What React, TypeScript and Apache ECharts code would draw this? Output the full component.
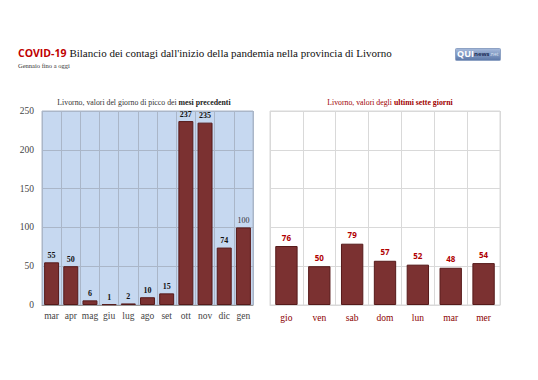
import React, { useEffect, useRef } from "react";
import * as echarts from "echarts";

const monthCats = ["mar", "apr", "mag", "giu", "lug", "ago", "set", "ott", "nov", "dic", "gen"];
const monthVals = [55, 50, 6, 1, 2, 10, 15, 237, 235, 74, 100];
const dayCats = ["gio", "ven", "sab", "dom", "lun", "mar", "mer"];
const dayVals = [76, 50, 79, 57, 52, 48, 54];
const yTicks = { min: 0, max: 250, interval: 50 };

export default function App() {
  const ref = useRef<HTMLDivElement>(null);
  useEffect(() => {
    if (!ref.current) return;
    const chart = echarts.init(ref.current, null, { renderer: "svg" });
    const serif = "Liberation Serif";
    const sans = "Open Sans";
    const barStyle = { color: "#7b3131", borderColor: "#561a1a", borderWidth: 1 };
    const monthData = monthVals.map((v, i) =>
      i === monthVals.length - 1 ? { value: v, label: { fontWeight: "normal", color: "#333" } } : v
    );
    chart.setOption({
      animation: false,
      backgroundColor: "#ffffff",
      title: [
        {
          left: 13,
          top: 42,
          text: "{a|COVID-19} {b|Bilancio dei contagi dall'inizio della pandemia nella provincia di Livorno}",
          textStyle: {
            fontFamily: serif,
            fontWeight: "normal",
            fontSize: 11.5,
            rich: {
              a: { fontFamily: sans, fontWeight: "bold", fontSize: 10.5, color: "#c00000" },
              b: { fontFamily: serif, fontWeight: "normal", fontSize: 11, color: "#111" },
            },
          },
        },
        {
          left: 13,
          top: 57,
          text: "Gennaio fino a oggi",
          textStyle: { fontFamily: serif, fontSize: 6.5, fontWeight: "normal", color: "#333" },
        },
        {
          left: 139,
          textAlign: "center",
          top: 93,
          text: "{n|Livorno, valori del giorno di picco dei }{b|mesi precedenti}",
          textStyle: {
            fontFamily: serif,
            fontWeight: "normal",
            rich: {
              n: { fontFamily: serif, fontWeight: "normal", fontSize: 7.8, color: "#333" },
              b: { fontFamily: serif, fontSize: 7.8, fontWeight: "bold", color: "#222" },
            },
          },
        },
        {
          left: 385,
          textAlign: "center",
          top: 93,
          text: "{n|Livorno, valori degli }{b|ultimi sette giorni}",
          textStyle: {
            fontFamily: serif,
            fontWeight: "normal",
            rich: {
              n: { fontFamily: serif, fontWeight: "normal", fontSize: 7.8, color: "#a00000" },
              b: { fontFamily: serif, fontSize: 7.8, fontWeight: "bold", color: "#a00000" },
            },
          },
        },
      ],
      graphic: [
        {
          type: "rect",
          left: 455,
          top: 48,
          shape: { width: 45, height: 12, r: 1 },
          style: {
            fill: new echarts.graphic.LinearGradient(0, 0, 0, 1, [
              { offset: 0, color: "#a7bbdc" },
              { offset: 1, color: "#5b77a8" },
            ]),
            stroke: "#8ea2c4",
          },
        },
        {
          type: "text",
          left: 457,
          top: 49,
          style: {
            text: "{q|QUI}{n|news}{t|.net}",
            rich: {
              q: { fontFamily: sans, fontWeight: "bold", fontSize: 9, fill: "#ffffff" },
              n: { fontFamily: sans, fontWeight: "bold", fontSize: 6, fill: "#1d2f58" },
              t: { fontFamily: sans, fontSize: 5, fill: "#dde5f3" },
            },
          },
        },
      ],
      grid: [
        {
          left: 42, top: 111, width: 211, height: 194,
          show: true, backgroundColor: "#c6d8f0", borderColor: "#aab6c8", borderWidth: 1,
        },
        {
          left: 270, top: 111, width: 230, height: 194,
          show: true, backgroundColor: "#ffffff", borderColor: "#d9d9d9", borderWidth: 1,
        },
      ],
      xAxis: [
        {
          type: "category", gridIndex: 0, data: monthCats,
          axisLine: { show: true, lineStyle: { color: "#999" } },
          axisTick: { show: false },
          splitLine: { show: true, interval: 0, lineStyle: { color: "#aab6c8" } },
          axisLabel: { interval: 0, fontFamily: serif, fontSize: 9.5, color: "#444", margin: 6 },
        },
        {
          type: "category", gridIndex: 1, data: dayCats,
          axisLine: { show: true, lineStyle: { color: "#d9d9d9" } },
          axisTick: { show: false },
          splitLine: { show: true, interval: 0, lineStyle: { color: "#d9d9d9" } },
          axisLabel: { interval: 0, fontFamily: serif, fontSize: 9.5, color: "#8b0000", margin: 8 },
        },
      ],
      yAxis: [
        {
          type: "value", gridIndex: 0, ...yTicks,
          axisLine: { show: false }, axisTick: { show: false },
          splitLine: { lineStyle: { color: "#aab6c8" } },
          axisLabel: { fontFamily: serif, fontSize: 9.5, color: "#444", margin: 8 },
        },
        {
          type: "value", gridIndex: 1, ...yTicks,
          axisLine: { show: false }, axisTick: { show: false },
          splitLine: { lineStyle: { color: "#d9d9d9" } },
          axisLabel: { show: false },
        },
      ],
      series: [
        {
          type: "bar", xAxisIndex: 0, yAxisIndex: 0, data: monthData,
          barWidth: "78%", itemStyle: barStyle,
          label: {
            show: true, position: "top", distance: 3,
            fontFamily: serif, fontWeight: "bold", fontSize: 8, color: "#111",
          },
        },
        {
          type: "bar", xAxisIndex: 1, yAxisIndex: 1, data: dayVals,
          barWidth: "68%", itemStyle: barStyle,
          label: {
            show: true, position: "top", distance: 5,
            fontFamily: sans, fontWeight: "bold", fontSize: 8, color: "#b00000",
          },
        },
      ],
    });
    return () => chart.dispose();
  }, []);
  return <div ref={ref} style={{ width: 538, height: 380, position: "absolute", left: 0, top: 0 }} />;
}
